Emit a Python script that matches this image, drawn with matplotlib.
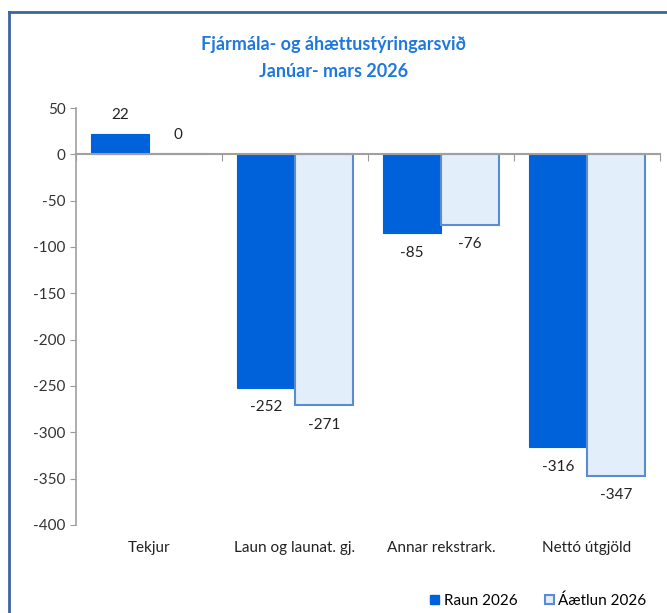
import numpy as np
import matplotlib.pyplot as plt
from matplotlib.lines import Line2D

categories = ["Tekjur", "Laun og launat. gj.", "Annar rekstrark.", "Nettó útgjöld"]
raun = [22, -252, -85, -316]
aaetlun = [0, -271, -76, -347]
series_names = ["Raun 2026", "Áætlun 2026"]
title_lines = ["Fjármála- og áhættustýringarsvið", "Janúar- mars 2026"]

plt.rcParams['font.family'] = ['Lato', 'DejaVu Sans']
plt.rcParams['axes.unicode_minus'] = False

fig = plt.figure(figsize=(6.67, 6.13), dpi=100)
ax = fig.add_axes([0.114, 0.1436, 0.8755, 0.6802])

x = np.arange(len(categories))
w = 0.4
b1 = ax.bar(x - w/2, raun, w, color="#0062DB", edgecolor="#0062DB", linewidth=0.8)
b2 = ax.bar(x + w/2, aaetlun, w, color="#E3EEFB", edgecolor="#5B8BD0", linewidth=1.5)

# data labels
for bars, vals in [(b1, raun), (b2, aaetlun)]:
    for bar, v in zip(bars, vals):
        xc = bar.get_x() + bar.get_width()/2
        off = 14 if v >= 0 else -14
        ax.annotate(f"{v}", (xc, v), xytext=(0, off), textcoords="offset points",
                    ha="center", va="center", fontsize=11, color="#222222")

ax.set_xlim(-0.5, len(categories) - 0.5)
ax.set_ylim(-400, 50)
ax.set_yticks(np.arange(-400, 51, 50))
ax.tick_params(axis="y", direction="out", length=4, color="#999999", labelsize=11, labelcolor="#333333")

ax.spines["top"].set_visible(False)
ax.spines["right"].set_visible(False)
ax.spines["left"].set_color("#A0A0A0")
ax.spines["left"].set_linewidth(1.2)
ax.spines["bottom"].set_position(("data", 0))
ax.spines["bottom"].set_color("#A0A0A0")
ax.spines["bottom"].set_linewidth(1.5)
ax.set_xticks(np.arange(-0.5, len(categories), 1.0))
ax.set_xticklabels([])
ax.tick_params(axis="x", direction="out", length=5, color="#999999")

for i, c in enumerate(categories):
    ax.text(i, -0.055, c, transform=ax.get_xaxis_transform(), ha="center", va="center",
            fontsize=11, color="#222222")

fig.text(0.5, 0.927, title_lines[0], ha="center", va="center", fontsize=13,
         fontweight="bold", color="#1F78DC")
fig.text(0.5, 0.884, title_lines[1], ha="center", va="center", fontsize=13,
         fontweight="bold", color="#1F78DC")

handles = [plt.Rectangle((0, 0), 1, 1, facecolor="#0062DB", edgecolor="#0062DB"),
           plt.Rectangle((0, 0), 1, 1, facecolor="#E3EEFB", edgecolor="#5B8BD0", linewidth=1.5)]
fig.legend(handles, series_names, loc="center right", bbox_to_anchor=(0.99, 0.02), ncol=2,
           frameon=False, fontsize=11, handlelength=0.6, handleheight=0.6,
           handletextpad=0.3, columnspacing=1.8)

# outer frame (top and left edges visible)
fc = "#3D64A0"
fig.add_artist(Line2D([9/667, 1.0], [1 - 12/613, 1 - 12/613], transform=fig.transFigure,
                      color=fc, linewidth=2))
fig.add_artist(Line2D([9/667, 9/667], [1 - 12/613, 0.0], transform=fig.transFigure,
                      color=fc, linewidth=2))

fig.savefig("out.png", dpi=100)
